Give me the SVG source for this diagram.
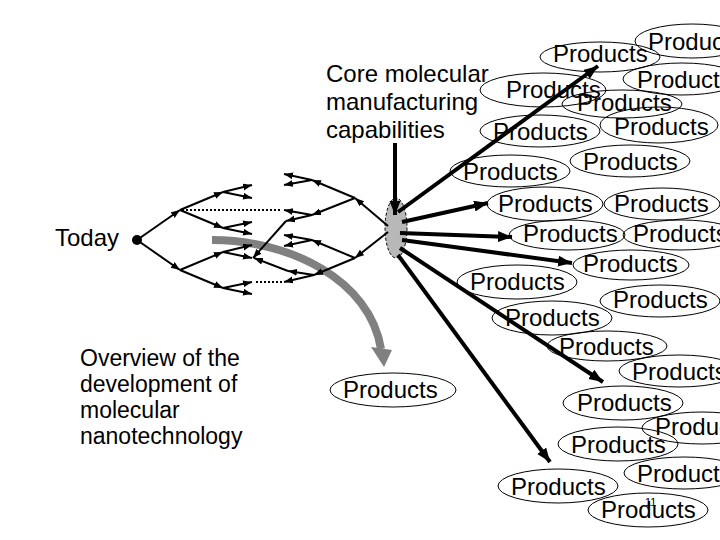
<svg xmlns="http://www.w3.org/2000/svg" width="720" height="540" viewBox="0 0 720 540">
<defs>
<style>
.t{font-family:"Liberation Sans",Arial,sans-serif;font-size:24px;fill:#000}
.s{font-family:"Liberation Sans",Arial,sans-serif;font-size:23px;fill:#000}
.pe{fill:none;stroke:#000;stroke-width:1}
.tl{fill:none;stroke:#000;stroke-width:2;marker-end:url(#sa)}
.dl{fill:none;stroke:#000;stroke-width:2;stroke-dasharray:2 2}
.bl{fill:none;stroke:#000;stroke-width:4;marker-end:url(#ah)}
</style>
<marker id="sa" markerUnits="userSpaceOnUse" markerWidth="10" markerHeight="8" refX="9" refY="3.5" orient="auto"><path d="M0,0 L9,3.5 L0,7 z" fill="#000"/></marker>
<marker id="ah" markerUnits="userSpaceOnUse" markerWidth="15" markerHeight="12" refX="14" refY="5.5" orient="auto"><path d="M0,0 L14,5.5 L0,11 z" fill="#000"/></marker>
</defs>
<rect width="720" height="540" fill="#fff"/>

<g id="labels">
<text class="t" x="326" y="82">Core molecular</text>
<text class="t" x="326" y="110">manufacturing</text>
<text class="t" x="326" y="138">capabilities</text>
<text class="t" x="55" y="246">Today</text>
<text class="s" x="80" y="366">Overview of the</text>
<text class="s" x="80" y="392">development of</text>
<text class="s" x="80" y="418">molecular</text>
<text class="s" x="80" y="444">nanotechnology</text>
</g>

<g id="gray-arrow">
<path d="M212,240 C290,240 370,280 381,349" fill="none" stroke="#808080" stroke-width="8"/>
<polygon points="371,347 392,350 384,367" fill="#808080"/>
</g>

<g id="today"><circle cx="137" cy="240" r="5" fill="#000"/></g>

<g id="capabilities"><ellipse cx="396" cy="228" rx="11" ry="30" fill="#b8b8b8" stroke="#000" stroke-width="1" stroke-dasharray="3 2"/></g>

<g id="connectors">
<!-- left tree -->
<line class="tl" x1="137" y1="240" x2="180" y2="210"/>
<line class="tl" x1="137" y1="240" x2="180" y2="270"/>
<line class="tl" x1="180" y1="210" x2="223" y2="192"/>
<line class="tl" x1="180" y1="210" x2="223" y2="228"/>
<line class="tl" x1="180" y1="270" x2="223" y2="252"/>
<line class="tl" x1="180" y1="270" x2="223" y2="288"/>
<line class="tl" x1="223" y1="192" x2="252" y2="185"/>
<line class="tl" x1="223" y1="192" x2="252" y2="198"/>
<line class="tl" x1="223" y1="228" x2="252" y2="222"/>
<line class="tl" x1="223" y1="228" x2="252" y2="234"/>
<line class="tl" x1="223" y1="252" x2="252" y2="245"/>
<line class="tl" x1="223" y1="252" x2="252" y2="258"/>
<line class="tl" x1="223" y1="288" x2="252" y2="282"/>
<line class="tl" x1="223" y1="288" x2="252" y2="294"/>
<line class="dl" x1="182" y1="210" x2="282" y2="210"/>
<line class="dl" x1="256" y1="282" x2="282" y2="282"/>
<!-- right tree -->
<line class="tl" x1="388" y1="226" x2="355" y2="198"/>
<line class="tl" x1="388" y1="232" x2="355" y2="258"/>
<line class="tl" x1="355" y1="198" x2="312" y2="180"/>
<line class="tl" x1="355" y1="198" x2="312" y2="215"/>
<line class="tl" x1="355" y1="258" x2="312" y2="240"/>
<line class="tl" x1="355" y1="258" x2="314" y2="275"/>
<line class="tl" x1="312" y1="180" x2="284" y2="174"/>
<line class="tl" x1="312" y1="180" x2="284" y2="185"/>
<line class="tl" x1="312" y1="215" x2="284" y2="210"/>
<line class="tl" x1="312" y1="215" x2="286" y2="221"/>
<line class="tl" x1="312" y1="240" x2="284" y2="235"/>
<line class="tl" x1="312" y1="240" x2="284" y2="246"/>
<line class="tl" x1="314" y1="275" x2="288" y2="271"/>
<line class="tl" x1="314" y1="275" x2="284" y2="282"/>
<line class="tl" x1="286" y1="221" x2="253" y2="258"/>
<line class="tl" x1="288" y1="271" x2="254" y2="258"/>
<!-- thick arrows -->
<line class="bl" x1="395" y1="143" x2="395" y2="215"/>
<line class="bl" x1="398" y1="212" x2="598" y2="66"/>
<line class="bl" x1="402" y1="222" x2="488" y2="203"/>
<line class="bl" x1="400" y1="233" x2="512" y2="237"/>
<line class="bl" x1="402" y1="240" x2="572" y2="263"/>
<line class="bl" x1="400" y1="248" x2="603" y2="382"/>
<line class="bl" x1="398" y1="255" x2="550" y2="462"/>
</g>

<g id="products">
<g id="p1"><ellipse class="pe" cx="600" cy="57" rx="60" ry="15"/><text class="t" x="553" y="62">Products</text></g>
<g id="p2"><ellipse class="pe" cx="692" cy="41" rx="57" ry="17"/><text class="t" x="648" y="50">Products</text></g>
<g id="p3"><ellipse class="pe" cx="682" cy="79" rx="59" ry="16"/><text class="t" x="637" y="88">Products</text></g>
<g id="p4"><ellipse class="pe" cx="543" cy="90" rx="63" ry="17"/><text class="t" x="506" y="98">Products</text></g>
<g id="p5"><ellipse class="pe" cx="622" cy="104" rx="60" ry="14"/><text class="t" x="577" y="111">Products</text></g>
<g id="p6"><ellipse class="pe" cx="540" cy="131" rx="60" ry="16"/><text class="t" x="493" y="140">Products</text></g>
<g id="p7"><ellipse class="pe" cx="659" cy="125" rx="59" ry="18"/><text class="t" x="614" y="135">Products</text></g>
<g id="p8"><ellipse class="pe" cx="510" cy="171" rx="60" ry="16"/><text class="t" x="463" y="180">Products</text></g>
<g id="p9"><ellipse class="pe" cx="630" cy="161" rx="60" ry="16"/><text class="t" x="583" y="170">Products</text></g>
<g id="p10"><ellipse class="pe" cx="545" cy="204" rx="58" ry="17"/><text class="t" x="498" y="212">Products</text></g>
<g id="p11"><ellipse class="pe" cx="662" cy="204" rx="58" ry="16"/><text class="t" x="614" y="212">Products</text></g>
<g id="p12"><ellipse class="pe" cx="567" cy="235" rx="58" ry="15"/><text class="t" x="523" y="242">Products</text></g>
<g id="p13"><ellipse class="pe" cx="681" cy="235" rx="58" ry="15"/><text class="t" x="633" y="242">Products</text></g>
<g id="p14"><ellipse class="pe" cx="631" cy="265" rx="58" ry="15"/><text class="t" x="583" y="272">Products</text></g>
<g id="p15"><ellipse class="pe" cx="517" cy="282" rx="60" ry="17"/><text class="t" x="470" y="290">Products</text></g>
<g id="p16"><ellipse class="pe" cx="660" cy="301" rx="60" ry="16"/><text class="t" x="613" y="308">Products</text></g>
<g id="p17"><ellipse class="pe" cx="552" cy="318" rx="60" ry="17"/><text class="t" x="505" y="326">Products</text></g>
<g id="p18"><ellipse class="pe" cx="607" cy="346" rx="60" ry="15"/><text class="t" x="559" y="355">Products</text></g>
<g id="p19"><ellipse class="pe" cx="679" cy="371" rx="60" ry="16"/><text class="t" x="632" y="380">Products</text></g>
<g id="p20"><ellipse class="pe" cx="623" cy="403" rx="60" ry="17"/><text class="t" x="577" y="411">Products</text></g>
<g id="p21"><ellipse class="pe" cx="702" cy="428" rx="60" ry="16"/><text class="t" x="655" y="435">Products</text></g>
<g id="p22"><ellipse class="pe" cx="618" cy="444" rx="60" ry="17"/><text class="t" x="571" y="453">Products</text></g>
<g id="p23"><ellipse class="pe" cx="684" cy="473" rx="60" ry="16"/><text class="t" x="637" y="482">Products</text></g>
<g id="p24"><ellipse class="pe" cx="558" cy="486" rx="60" ry="17"/><text class="t" x="511" y="495">Products</text></g>
<g id="p25"><ellipse class="pe" cx="648" cy="510" rx="60" ry="17"/><text class="t" x="601" y="518">Products</text></g>
<g id="p26"><ellipse class="pe" cx="393" cy="390" rx="63" ry="17"/><text class="t" x="343" y="398">Products</text></g>
</g>
<text x="645" y="506" font-family="Liberation Sans, Arial, sans-serif" font-size="11">11</text>
</svg>
